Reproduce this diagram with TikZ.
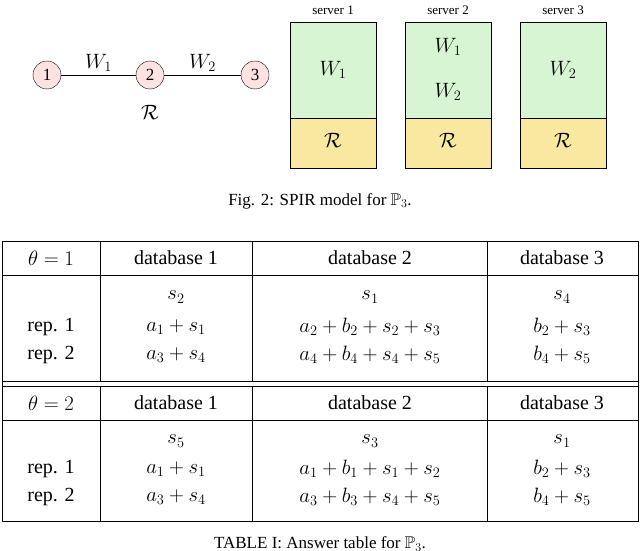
\documentclass[tikz,border=0pt]{standalone}
\usepackage{amssymb}
\usepackage{fontspec}
\setmainfont{Liberation Serif}
\definecolor{sy}{RGB}{250,232,160}
\definecolor{sg}{RGB}{215,245,210}
\begin{document}
\begin{tikzpicture}[x=1pt,y=-1pt,
  vtx/.style={circle,draw,fill=pink!45,minimum size=28pt,inner sep=0pt,font=\fontsize{17}{17}\selectfont},
  tt/.style={font=\fontsize{20}{22}\selectfont},
  captxt/.style={font=\fontsize{17}{19}\selectfont},
  sv/.style={font=\fontsize{13}{14}\selectfont},
  big/.style={font=\fontsize{22}{24}\selectfont}]
\useasboundingbox (0,0) rectangle (640,551);
% graph
\node[vtx] (n1) at (47,75) {1};
\node[vtx] (n2) at (150,75) {2};
\node[vtx] (n3) at (255,75) {3};
\draw (n1) -- node[above,big]{$W_1$} (n2);
\draw (n2) -- node[above,big]{$W_2$} (n3);
\node[big] (r) at (150,112) {$\mathcal{R}$};
% servers
\foreach \x/\n in {290/1,405/2,520/3}{
  \fill[sg] (\x,22) rectangle (\x+86,118);
  \fill[sy] (\x,118) rectangle (\x+86,168);
  \draw (\x,22) rectangle (\x+86,168);
  \draw (\x,118) -- (\x+86,118);
  \node[sv] at (\x+43,10) {server \n};
  \node[big] at (\x+43,140) {$\mathcal{R}$};
}
\node[big] (a) at (333,70) {$W_1$};
\node[big] (b) at (448,47) {$W_1$};
\node[big] (c) at (448,92) {$W_2$};
\node[big] (d) at (563,70) {$W_2$};
\node[captxt] (f) at (320,201) {Fig. 2: SPIR model for $\mathbb{P}_3$.};
% table
\draw (2,241) rectangle (638,521);
\draw (2,275) -- (638,275);
\draw (2,381) -- (638,381);
\draw (2,386) -- (638,386);
\draw (2,420) -- (638,420);
\foreach \x in {100,252,487}{\draw (\x,241) -- (\x,381); \draw (\x,386) -- (\x,521);}
\node[tt] at (51,258) {$\theta=1$};
\node[tt] at (176,258) {database 1};
\node[tt] at (370,258) {database 2};
\node[tt] at (562,258) {database 3};
\node[tt] at (176,297) {$s_2$};
\node[tt] at (370,297) {$s_1$};
\node[tt] at (562,297) {$s_4$};
\node[tt] at (51,327) {rep. 1};
\node[tt] at (176,327) {$a_1+s_1$};
\node[tt] at (370,327) {$a_2+b_2+s_2+s_3$};
\node[tt] at (562,327) {$b_2+s_3$};
\node[tt] at (51,355) {rep. 2};
\node[tt] at (176,355) {$a_3+s_4$};
\node[tt] at (370,355) {$a_4+b_4+s_4+s_5$};
\node[tt] at (562,355) {$b_4+s_5$};
\node[tt] at (51,403) {$\theta=2$};
\node[tt] at (176,403) {database 1};
\node[tt] at (370,403) {database 2};
\node[tt] at (562,403) {database 3};
\node[tt] at (176,441) {$s_5$};
\node[tt] at (370,441) {$s_3$};
\node[tt] at (562,441) {$s_1$};
\node[tt] at (51,469) {rep. 1};
\node[tt] at (176,469) {$a_1+s_1$};
\node[tt] at (370,469) {$a_1+b_1+s_1+s_2$};
\node[tt] at (562,469) {$b_2+s_3$};
\node[tt] at (51,497) {rep. 2};
\node[tt] at (176,497) {$a_3+s_4$};
\node[tt] at (370,497) {$a_3+b_3+s_4+s_5$};
\node[tt] at (562,497) {$b_4+s_5$};
\node[captxt] at (320,544) {TABLE I: Answer table for $\mathbb{P}_3$.};
\end{tikzpicture}
\end{document}
